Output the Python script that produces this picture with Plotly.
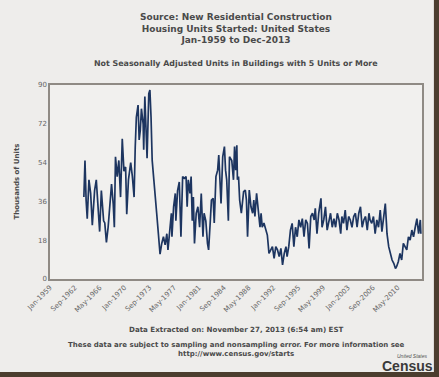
import plotly.graph_objects as go

# ---- data (thousands of units) ----
dates = [
 "1964-01","1964-03","1964-05","1964-07","1964-10","1965-01","1965-04","1965-08","1965-11",
 "1966-02","1966-05","1966-08","1966-12","1967-02","1967-05","1967-08","1967-11",
 "1968-02","1968-05","1968-07","1968-09","1968-12","1969-03","1969-06","1969-09","1969-12",
 "1970-03","1970-05","1970-08","1970-12","1971-03","1971-06","1971-08","1971-10",
 "1972-01","1972-03","1972-05","1972-07","1972-10","1972-11","1973-01","1973-03","1973-05",
 "1973-08","1973-10","1973-12","1974-02","1974-05","1974-07","1974-10","1975-01","1975-04",
 "1975-07","1975-10","1976-01","1976-04","1976-06","1976-09","1976-12","1977-01","1977-04",
 "1977-07","1977-08","1977-11","1978-02","1978-05","1978-08","1978-11","1979-02","1979-04",
 "1979-06","1979-09","1979-11","1980-01","1980-03","1980-05","1980-08","1980-11","1981-02",
 "1981-05","1981-08","1981-10","1982-01","1982-04","1982-06","1982-09","1982-11","1983-02",
 "1983-04","1983-07","1983-10","1983-12","1984-02","1984-04","1984-07","1984-10","1984-12",
 "1985-02","1985-05","1985-07","1985-11","1986-02","1986-04","1986-06","1986-08","1986-09",
 "1986-11","1987-01","1987-04","1987-08","1987-11","1988-01","1988-03","1988-06","1988-09",
 "1988-12","1989-02","1989-04","1989-07","1989-10","1990-01","1990-03","1990-05","1990-08",
 "1990-11","1991-02","1991-05","1991-08","1991-11","1992-02","1992-05","1992-08","1992-11",
 "1993-02","1993-05","1993-08","1993-11","1994-01","1994-04","1994-07","1994-10","1995-01",
 "1995-04","1995-07","1995-10","1996-01","1996-04","1996-07","1996-10","1997-01","1997-04",
 "1997-07","1997-10","1998-01","1998-03","1998-06","1998-09","1999-01","1999-03","1999-06",
 "1999-09","1999-12","2000-03","2000-06","2000-09","2000-12","2001-03","2001-06","2001-09",
 "2001-12","2002-02","2002-05","2002-08","2002-11","2003-02","2003-05","2003-08","2003-11",
 "2004-02","2004-05","2004-08","2004-11","2005-02","2005-05","2005-08","2005-11","2006-02",
 "2006-04","2006-07","2006-10","2007-01","2007-04","2007-07","2007-10","2008-01","2008-04",
 "2008-07","2008-09","2008-10","2009-01","2009-04","2009-07","2009-10","2010-01","2010-03",
 "2010-06","2010-09","2010-12","2011-03","2011-06","2011-09","2011-12","2012-03","2012-06",
 "2012-09","2012-12","2013-03","2013-06","2013-09","2013-10",
]
units = [
 38,55,36.6,28,46,39.7,25,41,46,
 32,22,41,27,26,17,24,36.6,
 44,35,24,56.7,47.5,55,38,65,50,
 52,30,46,54,47.5,38,61,75,
 80.7,64.5,69,79,72,60,84.6,73.7,56,
 86,87.7,75,55,46,41,30.5,21,11.5,
 16.5,19.6,15.8,21,13.5,24,30.5,19.6,33.5,
 39.7,27,41,45,19.6,47.5,46.7,47.5,33.5,
 46,39.7,47.5,27,38,16.5,30.5,33.5,24,
 39.7,19.6,30.5,27,16.5,13.5,27,36.6,37.4,
 26,47.5,50.5,57.5,47.5,35,56.7,61.4,50.5,
 46,27,56.7,55,46,61.4,50.5,62,46,
 47.5,36.6,30.5,40.5,41.3,36.6,19.6,41.3,33.5,
 30.5,36.6,29,39.7,32,24,30.5,24,26,
 23.5,20.4,11.9,13.5,15,9.6,15,13.5,10.4,
 14.2,6.5,11.9,15,10.4,15,22.7,25.8,15,
 24,19.6,27.4,24,28,19.6,27.4,25.8,14.2,
 29,30.5,27.4,32.8,21,30.5,37.4,24,27.4,
 33.5,22.7,27.4,30.5,24,28,24,30.5,27.4,
 21,29,25.8,32,22.7,29,27.4,24,29,
 30.5,24,30.5,33.5,24,27.4,29,22.7,30.5,
 27.4,25.8,29,21,27.4,24,32,22,27.4,
 35,25.8,21,15,11.9,8.8,7.3,4.9,5.7,
 8,11.9,8.8,16.5,15,13.5,19.6,18,22.7,
 19.6,24,28,21,27.4,21,
]

tick_dates = ["1959-01-01","1962-09-01","1966-05-01","1970-01-01","1973-09-01",
              "1977-05-01","1981-01-01","1984-09-01","1988-05-01","1992-01-01",
              "1995-09-01","1999-05-01","2003-01-01","2006-09-01","2010-05-01"]
tick_labels = ["Jan-1959","Sep-1962","May-1966","Jan-1970","Sep-1973",
               "May-1977","Jan-1981","Sep-1984","May-1988","Jan-1992",
               "Sep-1995","May-1999","Jan-2003","Sep-2006","May-2010"]
y_ticks = [0, 18, 36, 54, 72, 90]

FONT = "DejaVu Sans"
TXT = "#4a4a4a"

fig = go.Figure()
fig.add_trace(go.Scatter(
    x=[d + "-01" for d in dates], y=units, mode="lines",
    line=dict(color="#1d3560", width=1.7), hoverinfo="skip", showlegend=False))

fig.update_layout(
    width=439, height=377,
    margin=dict(l=50, r=17, t=85, b=98, autoexpand=False),
    paper_bgcolor="#eeedeb", plot_bgcolor="#f1f0ee",
    font=dict(family=FONT, color=TXT, size=7),
    xaxis=dict(range=["1959-01-01", "2013-12-01"], tickvals=tick_dates,
               ticktext=tick_labels, tickangle=-45, showgrid=False, zeroline=False,
               showline=True, mirror=True, linecolor="#8f8a84", linewidth=1.5,
               ticks="", tickfont=dict(size=7, color="#666"), fixedrange=True),
    yaxis=dict(range=[0, 90], tickvals=y_ticks, showgrid=False, zeroline=False,
               showline=True, mirror=True, linecolor="#8f8a84", linewidth=1.5,
               ticks="", tickfont=dict(size=7, color="#666"), fixedrange=True),
)

ann = [
    dict(text="<b>Source: New Residential Construction<br>Housing Units Started: United States<br>Jan-1959 to Dec-2013</b>",
         x=0.5, y=1.289, font=dict(size=9, color=TXT)),
    dict(text="<b>Not Seasonally Adjusted Units in Buildings with 5 Units or More</b>",
         x=0.5, y=1.113, font=dict(size=7.9, color=TXT)),
    dict(text="<b>Thousands of Units</b>", x=-0.09, y=0.5, textangle=-90,
         font=dict(size=7, color=TXT)),
    dict(text="<b>Data Extracted on: November 27, 2013 (6:54 am) EST</b>",
         x=0.5, y=-0.258, font=dict(size=7.1, color=TXT)),
    dict(text="<b>These data are subject to sampling and nonsampling error. For more information see<br>http://www.census.gov/starts</b>",
         x=0.5, y=-0.361, font=dict(size=7, color=TXT)),
    dict(text="<i>United States</i>", x=0.975, y=-0.395,
         font=dict(size=5, color="#555", family="Liberation Sans")),
    dict(text="<b>Census</b>", x=0.96, y=-0.448,
         font=dict(size=14, color="#3a3a3a", family="Liberation Sans")),
]
for a in ann:
    a.update(xref="paper", yref="paper", showarrow=False, xanchor="center", yanchor="middle")
    fig.add_annotation(**a)

# photo frame shadow on the right and bottom edges
fig.add_shape(type="rect", xref="paper", yref="paper", x0=1.032, x1=1.06, y0=-0.52, y1=1.45,
              fillcolor="#4b3d2e", line=dict(width=0), layer="above")
fig.add_shape(type="rect", xref="paper", yref="paper", x0=-0.2, x1=1.06, y0=-0.52, y1=-0.479,
              fillcolor="#4b3d2e", line=dict(width=0), layer="above")

fig.write_html("out.html", config={"displayModeBar": False},
               post_script="document.body.style.margin='0';document.body.style.background='#eeedeb';")
